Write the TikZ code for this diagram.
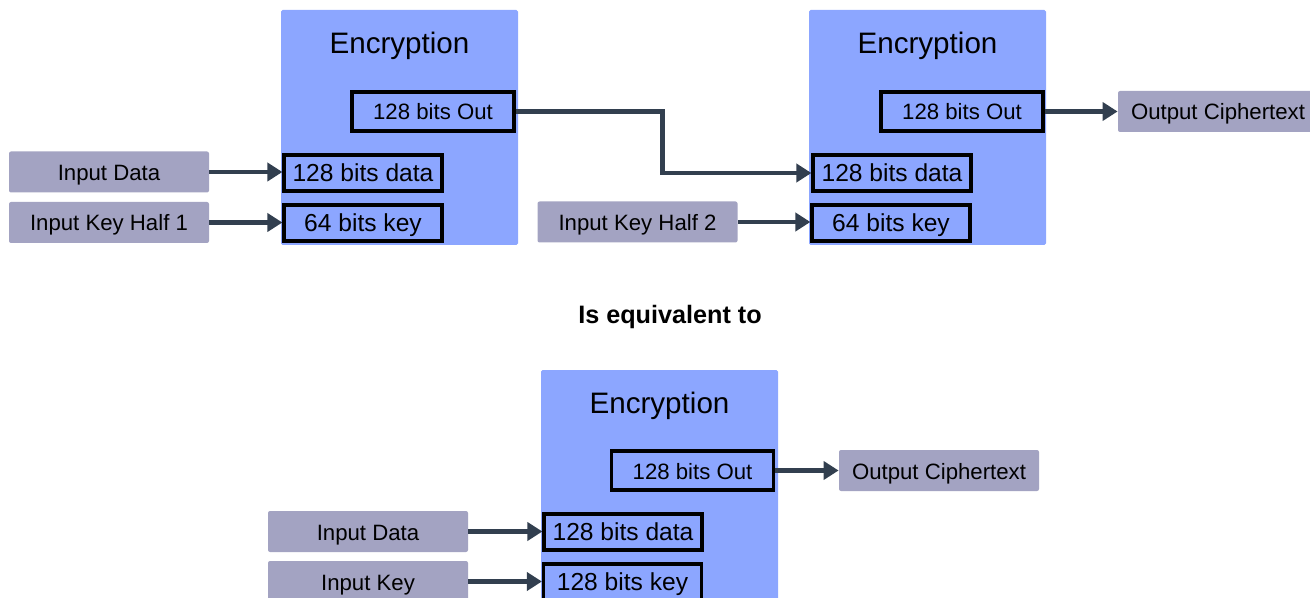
\documentclass[tikz,border=0pt]{standalone}
\usepackage{fontspec}
\setmainfont{Liberation Sans}
\usetikzlibrary{arrows.meta}

\definecolor{encblue}{HTML}{8CA6FF}
\definecolor{ingray}{HTML}{A3A3C2}
\definecolor{wire}{HTML}{323F4F}

\tikzset{
  encbox/.style={fill=encblue, rounded corners=0.8pt, inner sep=0pt},
  enctitle/.style={anchor=base, font=\fontsize{14.8}{17}\selectfont},
  port/.style={draw=black, line width=1.6pt, fill=encblue, inner sep=0pt,
    text height=0.85em, text depth=0pt,
    minimum width=79pt, minimum height=18pt, font=\fontsize{12.3}{14}\selectfont},
  outport/.style={port, minimum width=81pt, minimum height=19.5pt,
    font=\fontsize{11.1}{13}\selectfont},
  iobox/.style={fill=ingray, rounded corners=1pt, inner sep=0pt,
    text height=0.85em, text depth=0pt,
    minimum width=100pt, minimum height=20.5pt, font=\fontsize{11.1}{13}\selectfont},
  arr/.style={draw=wire, line width=2.2pt, -{Triangle[length=7.5pt,width=9pt]}}
}

\begin{document}
\begin{tikzpicture}[x=0.5pt, y=-0.5pt]
\useasboundingbox (0,0) rectangle (1310,598);

% first stage
\node[encbox, minimum width=118.5pt, minimum height=117.5pt] (enc1) at (399.5,127.5) {};
\node[enctitle] (enc1t) at (399.5,54) {Encryption};
\node[outport] (out1) at (433,111.5) {128 bits Out};
\node[port] (data1) at (363,173) {128 bits data};
\node[port] (key1) at (363,223) {64 bits key};
\node[iobox] (indata1) at (109,172) {Input Data};
\node[iobox] (inkey1) at (109,222.5) {Input Key Half 1};
\draw[arr] (indata1.east) -- (indata1.east -| data1.west);
\draw[arr] (inkey1.east) -- (inkey1.east -| key1.west);

% second stage
\node[encbox, minimum width=118.5pt, minimum height=117.5pt] (enc2) at (927.5,127.5) {};
\node[enctitle] (enc2t) at (927.5,54) {Encryption};
\node[outport] (out2) at (962,111.5) {128 bits Out};
\node[port] (data2) at (892,173) {128 bits data};
\node[port] (key2) at (891,223) {64 bits key};
\node[iobox] (inkey2) at (637.5,222) {Input Key Half 2};
\node[iobox] (outc1) at (1218,111.5) {Output Ciphertext};
\draw[arr] (out1.east) -- ++(147,0) |- (data2.west);
\draw[arr] (inkey2.east) -- (inkey2.east -| key2.west);
\draw[arr] (out2.east) -- (outc1.west);

\node[anchor=base, font=\bfseries\fontsize{12.6}{15}\selectfont] (equiv) at (670,323) {Is equivalent to};

% single stage, full key
\node[encbox, minimum width=118.5pt, minimum height=120pt] (enc3) at (659.5,490) {};
\node[enctitle] (enc3t) at (659.5,413) {Encryption};
\node[outport] (out3) at (692.5,470.5) {128 bits Out};
\node[port] (data3) at (623,532) {128 bits data};
\node[port] (key3) at (622.5,582) {128 bits key};
\node[iobox] (indata3) at (368,531.5) {Input Data};
\node[iobox] (inkey3) at (368,581.5) {Input Key};
\node[iobox] (outc3) at (939,470.5) {Output Ciphertext};
\draw[arr] (indata3.east) -- (indata3.east -| data3.west);
\draw[arr] (inkey3.east) -- (inkey3.east -| key3.west);
\draw[arr] (out3.east) -- (outc3.west);
\end{tikzpicture}
\end{document}
